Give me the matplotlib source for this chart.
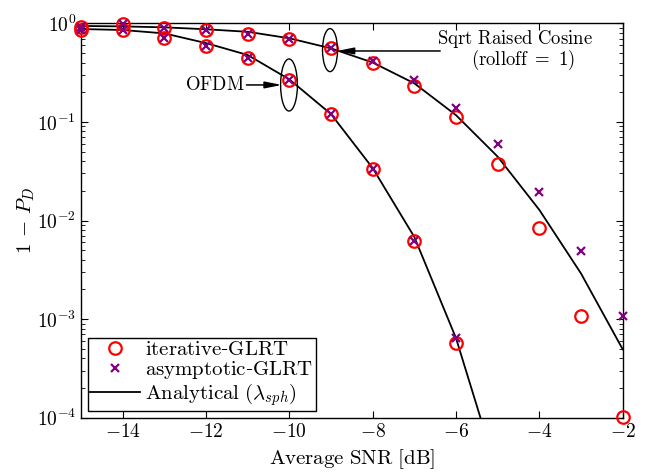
import numpy as np
import matplotlib
matplotlib.use("Agg")
import matplotlib.pyplot as plt
from matplotlib.patches import Ellipse

plt.rcParams['mathtext.fontset'] = 'cm'
plt.rcParams['font.family'] = ['serif']
plt.rcParams['font.serif'] = ['DejaVu Serif']

# ---- data ----
snr_ofdm = [-15, -14, -13, -12, -11, -10, -9, -8, -7, -6]
ofdm_iter = [0.855, 0.855, 0.705, 0.59, 0.448, 0.266, 0.12, 0.033, 0.0062, 0.00057]
ofdm_asym = [0.855, 0.855, 0.705, 0.59, 0.448, 0.266, 0.12, 0.033, 0.0062, 0.00064]
snr_ofdm_anal = [-15, -14, -13, -12, -11, -10, -9, -8, -7, -6, -5]
ofdm_anal = [0.875, 0.855, 0.79, 0.63, 0.477, 0.27, 0.12, 0.034, 0.0068, 0.00064, 0.000027]

snr_src = [-15, -14, -13, -12, -11, -10, -9, -8, -7, -6, -5, -4, -3, -2]
src_iter = [0.92, 0.977, 0.90, 0.855, 0.773, 0.69, 0.566, 0.40, 0.231, 0.111, 0.0374, 0.00845, 0.00107, 0.000102]
src_asym = [0.92, 0.977, 0.90, 0.855, 0.773, 0.69, 0.566, 0.415, 0.266, 0.139, 0.0597, 0.0195, 0.00494, 0.00107]
src_anal = [0.94, 0.93, 0.91, 0.87, 0.82, 0.705, 0.557, 0.40, 0.246, 0.117, 0.0444, 0.0128, 0.0029, 0.000494]

xticks = [-14, -12, -10, -8, -6, -4, -2]
legend_labels = [r'$\mathrm{iterative}$-$\mathrm{GLRT}$',
                 r'$\mathrm{asymptotic}$-$\mathrm{GLRT}$',
                 r'$\mathrm{Analytical\ (}\lambda_{sph}\mathrm{)}$']

fig = plt.figure(figsize=(6.46, 4.72), dpi=100)
ax = fig.add_axes([81/646, 1-417.7/472, 541.7/646, 394.4/472])

lw_line = 1.3
ax.plot(snr_ofdm_anal, ofdm_anal, color='k', lw=lw_line, zorder=2)
h_anal, = ax.plot(snr_src, src_anal, color='k', lw=lw_line, zorder=2)

circ = dict(linestyle='none', marker='o', markersize=9, markerfacecolor='none',
            markeredgecolor='red', markeredgewidth=1.6, clip_on=False, zorder=3)
crs = dict(linestyle='none', marker='x', markersize=6, color='#800080',
           markeredgewidth=1.6, clip_on=False, zorder=4)
ax.plot(snr_ofdm, ofdm_iter, **circ)
h_iter, = ax.plot(snr_src, src_iter, **circ)
ax.plot(snr_ofdm, ofdm_asym, **crs)
h_asym, = ax.plot(snr_src, src_asym, **crs)

ax.set_yscale('log')
ax.set_xlim(-15, -2)
ax.set_ylim(1e-4, 1)
ax.set_xticks(xticks)
ax.set_xticklabels([r'$-%d$' % abs(t) for t in xticks], fontsize=14)
ax.tick_params(axis='both', which='both', direction='in', top=True, right=True)
ax.tick_params(axis='both', which='major', length=5, width=0.8, labelsize=14)
ax.tick_params(axis='y', which='minor', length=3, width=0.6)
ax.set_yticks([1e-4, 1e-3, 1e-2, 1e-1, 1])
ax.set_yticklabels([r'$10^{%d}$' % e for e in [-4, -3, -2, -1, 0]])
for s in ax.spines.values():
    s.set_linewidth(1.0)

ax.set_xlabel(r'$\mathrm{Average\ SNR\ [dB]}$', fontsize=15, labelpad=5)
ax.set_ylabel(r'$1\,-\,P_D$', fontsize=15, labelpad=0)

# ellipses (axes fraction coordinates)
ax.add_patch(Ellipse((0.4597, 0.932), 0.0277, 0.109, transform=ax.transAxes,
                     fill=False, ec='k', lw=1.0, clip_on=False, zorder=5))
ax.add_patch(Ellipse((0.384, 0.8436), 0.031, 0.132, transform=ax.transAxes,
                     fill=False, ec='k', lw=1.0, clip_on=False, zorder=5))

# annotations
ap = dict(arrowstyle='-|>,head_length=1.0,head_width=0.2', color='k', lw=1.1,
          shrinkA=0, shrinkB=0)
ax.annotate('', xy=(-8.86, 0.524), xytext=(-6.38, 0.524), arrowprops=ap, zorder=6)
ax.text(-4.58, 0.70, r'$\mathrm{Sqrt\ Raised\ Cosine}$', ha='center', va='center', fontsize=13.5)
ax.text(-4.39, 0.425, r'$\mathrm{(rolloff\ =\ 1)}$', ha='center', va='center', fontsize=13.5)
ax.annotate('', xy=(-10.18, 0.237), xytext=(-11.03, 0.237), arrowprops=ap, zorder=6)
ax.text(-11.08, 0.237, r'$\mathrm{OFDM}$', ha='right', va='center', fontsize=13.5)

leg = ax.legend([h_iter, h_asym, h_anal], legend_labels,
                loc='lower left', bbox_to_anchor=(0.012, 0.018), borderaxespad=0,
                fontsize=15, frameon=True, fancybox=False, edgecolor='k',
                handlelength=2.4, handletextpad=0.25, labelspacing=0.0,
                borderpad=0.12, framealpha=1)
leg.get_frame().set_linewidth(1.0)

fig.savefig('out.png', dpi=100)
